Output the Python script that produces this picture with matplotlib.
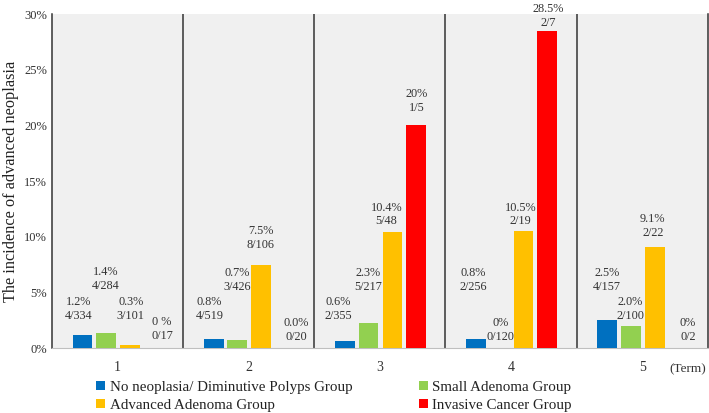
import numpy as np
import matplotlib.pyplot as plt
from matplotlib.ticker import FuncFormatter
from matplotlib.font_manager import FontProperties

plt.rcParams['font.family'] = ['Liberation Serif', 'DejaVu Serif']

terms = [1, 2, 3, 4, 5]
groups = ["No neoplasia/ Diminutive Polyps Group", "Small Adenoma Group",
          "Advanced Adenoma Group", "Invasive Cancer Group"]
blue = [1.2, 0.8, 0.6, 0.8, 2.5]
green = [1.4, 0.7, 2.3, 0.0, 2.0]
yellow = [0.3, 7.5, 10.4, 10.5, 9.1]
red = [0.0, 0.0, 20.0, 28.5, 0.0]

pct_blue = ["1.2%", "0.8%", "0.6%", "0.8%", "2.5%"]
frac_blue = ["4/334", "4/519", "2/355", "2/256", "4/157"]
pct_green = ["1.4%", "0.7%", "2.3%", "0%", "2.0%"]
frac_green = ["4/284", "3/426", "5/217", "0/120", "2/100"]
pct_yellow = ["0.3%", "7.5%", "10.4%", "10.5%", "9.1%"]
frac_yellow = ["3/101", "8/106", "5/48", "2/19", "2/22"]
pct_red = ["0 %", "0.0%", "20%", "28.5%", "0%"]
frac_red = ["0/17", "0/20", "1/5", "2/7", "0/2"]

colors = ["#0070C0", "#92D050", "#FFC000", "#FF0000"]
series = [blue, green, yellow, red]
pcts = [pct_blue, pct_green, pct_yellow, pct_red]
fracs = [frac_blue, frac_green, frac_yellow, frac_red]

# label layout (heights in % units, x offsets from group centre)
lab_y = [[3.5, 3.5, 3.5, 6.1, 6.1],
         [6.2, 6.1, 6.1, 1.6, 3.5],
         [3.5, 9.9, 12.0, 12.0, 11.0],
         [1.7, 1.6, 22.2, 29.8, 1.6]]
lab_dx = [[-0.30, -0.30, -0.32, -0.29, -0.27],
          [-0.09, -0.09, -0.09, -0.08, -0.09],
          [0.10, 0.09, 0.05, 0.07, 0.08],
          [0.34, 0.36, 0.28, 0.28, 0.35]]

fig = plt.figure(figsize=(7.09, 4.13), dpi=100)
ax = fig.add_axes([0.0733, 0.157, 0.925, 0.809])
ax.set_facecolor("#F0F0F0")

x = np.array(terms)
offsets = [-0.267, -0.088, 0.095, 0.275]
width = 0.15
handles = []
for i in range(4):
    h = ax.bar(x + offsets[i], series[i], width, color=colors[i], label=groups[i], zorder=3)
    handles.append(h)
    for j in range(5):
        ax.text(x[j] + lab_dx[i][j], lab_y[i][j], pcts[i][j] + "\n" + fracs[i][j],
                ha="center", va="center", fontsize=8.8, linespacing=1.2,
                color="#333333", clip_on=False, zorder=4)

for b in [1.5, 2.5, 3.5, 4.5]:
    ax.axvline(b, color="#333333", lw=1.1, zorder=2)

ax.set_xlim(0.5, 5.5)
ax.set_ylim(0, 30)
ax.set_xticks(terms)
ax.set_yticks(np.arange(0, 31, 5))
ax.yaxis.set_major_formatter(FuncFormatter(lambda v, p: "%d%%" % v))
ax.tick_params(length=0, labelsize=9, colors="#333333")
ax.tick_params(axis="x", pad=9, labelsize=10)
for s in ["left", "right"]:
    ax.spines[s].set_color("#333333")
    ax.spines[s].set_linewidth(1.1)
ax.spines["top"].set_visible(False)
ax.spines["bottom"].set_color("#BFBFBF")
ax.set_ylabel("The incidence of advanced neoplasia", fontsize=11.7, labelpad=4,
              color="#222222")

ax.text(5.21, -1.35, "(Term)", fontsize=9.5, ha="left", va="top", color="#333333")

leg_font = FontProperties(family="Liberation Serif", size=10.8)
fig.legend([handles[0], handles[2], handles[1], handles[3]],
           [groups[0], groups[2], groups[1], groups[3]],
           ncol=2, loc="lower left", bbox_to_anchor=(0.117, -0.03), frameon=False,
           prop=leg_font, handlelength=0.6, handleheight=0.6, handletextpad=0.3,
           columnspacing=4.4, labelspacing=0.35, labelcolor="#222222")

fig.savefig("out.png", dpi=100)
